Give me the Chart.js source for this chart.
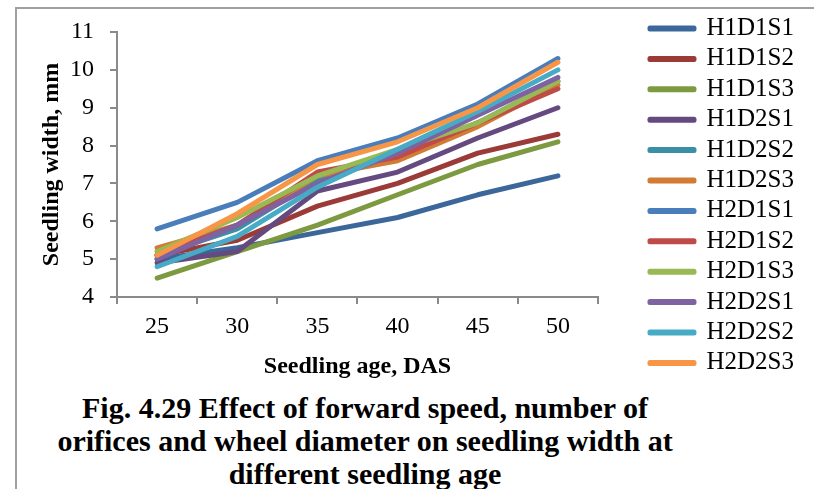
<!DOCTYPE html>
<html>
<head>
<meta charset="utf-8">
<script src="https://cdn.jsdelivr.net/npm/chart.js@4.4.1/dist/chart.umd.min.js"></script>
<style>
    body {
        margin: 0;
        background: #ffffff;
    }
    #pagina {
        position: relative;
        width: 814px;
        height: 489px;
        overflow: hidden;
    }
    #moldura {
        position: absolute;
        left: 15px;
        top: 7px;
        right: -5px;
        bottom: -5px;
        border-top: 2px solid #a0a0a0;
        border-left: 2px solid #a0a0a0;
    }
    #grafico {
        position: absolute;
        left: 0;
        top: 0;
        width: 814px;
        height: 383px;
    }
    #legenda {
        position: absolute;
        left: 0;
        top: 391px;
        width: 730px;
        text-align: center;
        font-family: "Liberation Serif", "Times New Roman", serif;
        font-weight: bold;
        font-size: 30px;
        line-height: 33px;
        color: #000;
    }
</style>
</head>
<body>
<div id="pagina">
    <div id="moldura"></div>
    <div id="grafico"><canvas id="myChart"></canvas></div>
    <div id="legenda">Fig. 4.29 Effect of forward speed, number of<br>orifices and wheel diameter on seedling width at<br>different seedling age</div>
</div>

<script>
// idade das mudas (dias apos semeadura)
const idades = ['25', '30', '35', '40', '45', '50'];

// largura das mudas, mm
const H1D1S1 = [5.0, 5.3, 5.7, 6.1, 6.7, 7.2];
const H1D1S2 = [5.1, 5.5, 6.4, 7.0, 7.8, 8.3];
const H1D1S3 = [4.5, 5.2, 5.9, 6.7, 7.5, 8.1];
const H1D2S1 = [4.9, 5.2, 6.8, 7.3, 8.2, 9.0];
const H1D2S2 = [5.1, 5.8, 7.1, 7.8, 8.6, 9.7];
const H1D2S3 = [5.3, 5.9, 7.2, 7.6, 8.5, 9.6];
const H2D1S1 = [5.8, 6.5, 7.6, 8.2, 9.1, 10.3];
const H2D1S2 = [5.1, 5.9, 7.3, 7.7, 8.6, 9.5];
const H2D1S3 = [5.2, 6.1, 7.2, 7.9, 8.6, 9.7];
const H2D2S1 = [5.0, 5.9, 7.0, 7.8, 8.8, 9.8];
const H2D2S2 = [4.8, 5.6, 6.9, 7.9, 8.9, 10.0];
const H2D2S3 = [5.1, 6.2, 7.5, 8.1, 9.0, 10.2];

const nomes = ['H1D1S1', 'H1D1S2', 'H1D1S3', 'H1D2S1', 'H1D2S2', 'H1D2S3',
    'H2D1S1', 'H2D1S2', 'H2D1S3', 'H2D2S1', 'H2D2S2', 'H2D2S3'];
const series = [H1D1S1, H1D1S2, H1D1S3, H1D2S1, H1D2S2, H1D2S3,
    H2D1S1, H2D1S2, H2D1S3, H2D2S1, H2D2S2, H2D2S3];
const cores = ['#3c679b', '#9a3b38', '#7d9a40', '#654a80', '#3a8fa4', '#d17b34',
    '#4a7ebb', '#be4b48', '#98b954', '#7e62a1', '#47abc6', '#f79646'];

const fonte = "'Liberation Serif', 'Times New Roman', serif";
const cinza = '#8a8a8a';

let datasets = [];
for (let i = 0; i < series.length; i++) {
    datasets.push({
        label: nomes[i],
        data: series[i],
        borderColor: cores[i],
        backgroundColor: cores[i],
        borderWidth: 5,
        borderCapStyle: 'round',
        borderJoinStyle: 'round',
        pointRadius: 0,
        tension: 0,
        // a ultima serie fica por cima
        order: series.length - 1 - i
    });
}

const ctx = document.getElementById('myChart');

new Chart(ctx, {
    type: 'line',
    data: {
        labels: idades,
        datasets: datasets
    },
    options: {
        responsive: true,
        maintainAspectRatio: false,
        animation: false,
        layout: {
            padding: { left: 30, top: 10.6, right: 10, bottom: 0 }
        },
        plugins: {
            tooltip: { enabled: false },
            legend: {
                position: 'right',
                align: 'start',
                maxWidth: 220,
                labels: {
                    font: { family: fonte, size: 25 },
                    color: '#000',
                    boxWidth: 44,
                    boxHeight: 1,
                    padding: 5.4,
                    sort: (a, b) => a.datasetIndex - b.datasetIndex,
                    generateLabels: chart => {
                        const itens = Chart.defaults.plugins.legend.labels.generateLabels(chart);
                        itens.forEach(item => {
                            item.lineWidth = 5;
                            item.lineJoin = 'round';
                            item.strokeStyle = cores[item.datasetIndex];
                            item.fillStyle = cores[item.datasetIndex];
                        });
                        return itens;
                    }
                }
            }
        },
        scales: {
            x: {
                offset: true,
                grid: {
                    offset: true,
                    drawOnChartArea: false,
                    color: cinza,
                    lineWidth: 2,
                    tickLength: 7
                },
                border: { color: cinza, width: 2 },
                ticks: {
                    font: { family: fonte, size: 24 },
                    color: '#000',
                    padding: 8.2,
                    maxRotation: 0
                },
                title: {
                    display: true,
                    text: 'Seedling age, DAS',
                    font: { family: fonte, size: 24, weight: 'bold' },
                    color: '#000',
                    padding: { top: 0, bottom: 1.6 }
                },
                afterFit: escala => {
                    escala.height = 86;
                }
            },
            y: {
                min: 4,
                max: 11,
                grid: {
                    drawOnChartArea: false,
                    color: cinza,
                    lineWidth: 2,
                    tickLength: 7
                },
                border: { color: cinza, width: 2 },
                ticks: {
                    stepSize: 1,
                    font: { family: fonte, size: 24 },
                    color: '#000',
                    padding: 16
                },
                title: {
                    display: true,
                    text: 'Seedling width, mm',
                    font: { family: fonte, size: 24, weight: 'bold' },
                    color: '#000',
                    padding: { top: 7.6, bottom: 0 }
                },
                afterFit: escala => {
                    escala.width = 87;
                    escala.paddingTop = 32;
                }
            },
            // eixo vazio so para afastar a legenda do grafico
            espaco: {
                type: 'linear',
                position: 'right',
                display: true,
                grid: { display: false },
                border: { display: false },
                ticks: { display: false },
                afterFit: escala => {
                    escala.width = 46.6;
                }
            }
        }
    }
});
</script>
</body>
</html>
